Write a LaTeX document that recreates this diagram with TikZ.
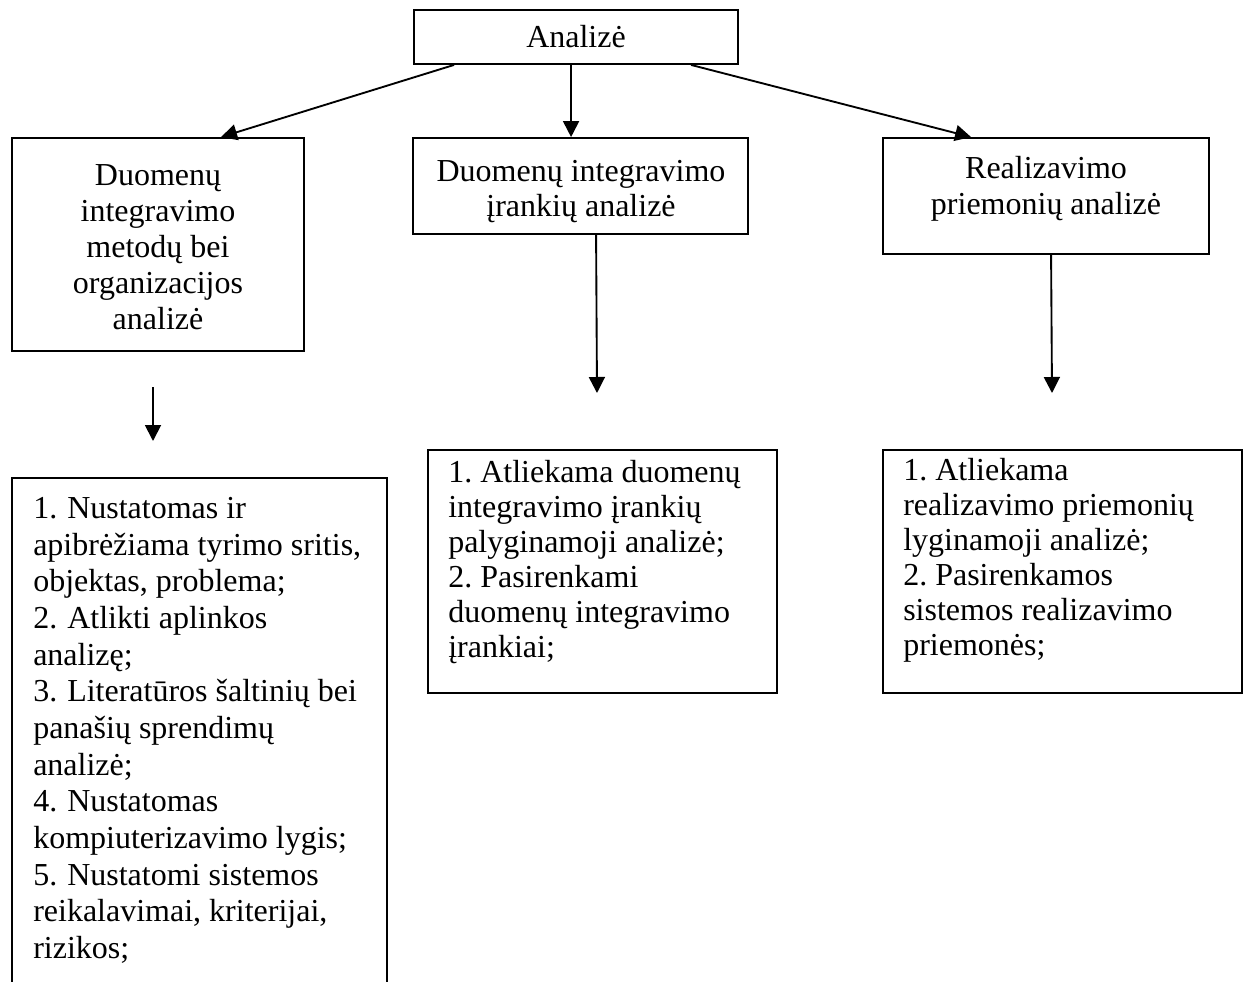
\documentclass[tikz,border=0pt]{standalone}
\usepackage{fontspec}
\setmainfont{Liberation Serif}
\usetikzlibrary{arrows.meta,calc}
\begin{document}
\frenchspacing
\begin{tikzpicture}[x=0.75pt,y=-0.75pt,
  box/.style={draw,line width=1.4pt,rectangle,inner sep=0pt},
  conn/.style={line width=1.4pt,-{Triangle[length=12pt,width=12pt]}},
  wide/.style={inner sep=0pt,align=left,font=\fontsize{24}{27.5}\selectfont},
  tight/.style={inner sep=0pt,align=left,font=\fontsize{24}{26.25}\selectfont},
  head/.style={inner sep=0pt,align=center,font=\fontsize{24}{27}\selectfont}]
\useasboundingbox (0,0) rectangle (1248,981);
\clip (0,0) rectangle (1248,981);

% top level
\node[box,minimum width=243pt,minimum height=40.5pt,font=\fontsize{24}{27}\selectfont] (top) at (576,37) {Analizė};

% second level boxes
\node[box,minimum width=219pt,minimum height=159.75pt] (b1) at (158,244.5) {};
\node[box,minimum width=251.25pt,minimum height=72pt] (b2) at (580.5,186) {};
\node[box,minimum width=244.5pt,minimum height=87pt] (b3) at (1046,196) {};

\node[head,anchor=north] (t1) at (158,164) {Duomenų\\integravimo\\metodų bei\\organizacijos\\analizė};
\node[head,anchor=north,font=\fontsize{24}{26.25}\selectfont] (t2) at (581,160) {Duomenų integravimo\\įrankių analizė};
\node[head,anchor=north] (t3) at (1046,156) {Realizavimo\\priemonių analizė};

% third level boxes
\node[box,minimum width=281.25pt,minimum height=399pt] (c1) at (199.5,744) {};
\node[box,minimum width=261.75pt,minimum height=182.25pt] (c2) at (602.5,571.5) {};
\node[box,minimum width=269.25pt,minimum height=182.25pt] (c3) at (1062.5,571.5) {};

\node[wide,anchor=north west] (s1) at (33,497) {1.\hspace{1.5pt} Nustatomas ir\\apibrėžiama tyrimo sritis,\\objektas, problema;\\2.\hspace{1.5pt} Atlikti aplinkos\\analizę;\\3.\hspace{1.5pt} Literatūros šaltinių bei\\panašių sprendimų\\analizė;\\4.\hspace{1.5pt} Nustatomas\\kompiuterizavimo lygis;\\5.\hspace{1.5pt} Nustatomi sistemos\\reikalavimai, kriterijai,\\rizikos;};
\node[tight,anchor=north west] (s2) at (448,460) {1. Atliekama duomenų\\integravimo įrankių\\palyginamoji analizė;\\2. Pasirenkami\\duomenų integravimo\\įrankiai;};
\node[tight,anchor=north west] (s3) at (903,458) {1. Atliekama\\realizavimo priemonių\\lyginamoji analizė;\\2. Pasirenkamos\\sistemos realizavimo\\priemonės;};

% free arrow ends
\coordinate (a1s) at (153,387);
\coordinate (a1e) at (153,441);
\coordinate (a2) at (597,393);
\coordinate (a3) at (1052,393);

% connectors
\draw[conn] ($(top.south west)+(41,0)$) -- ($(b1.north west)+(210,0)$);
\draw[conn] ($(top.south west)+(158,0)$) -- ($(b2.north west)+(159,0)$);
\draw[conn] ($(top.south west)+(278,0)$) -- ($(b3.north west)+(89,0)$);
\draw[conn] ($(b2.south west)+(184,0)$) -- (a2);
\draw[conn] ($(b3.south west)+(169,0)$) -- (a3);
\draw[conn] (a1s) -- (a1e);
\end{tikzpicture}
\end{document}
